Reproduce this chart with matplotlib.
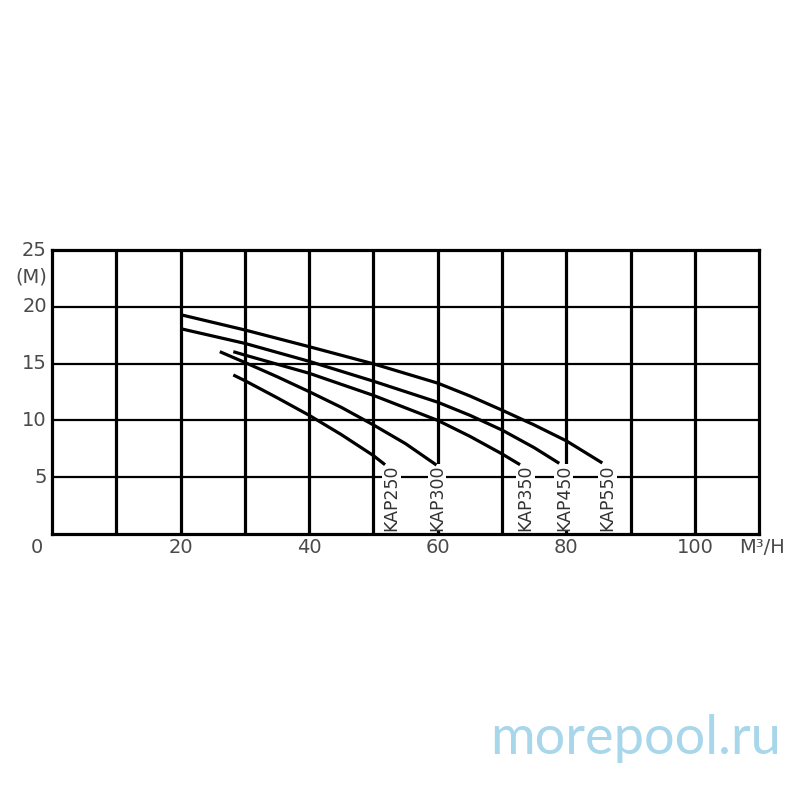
import numpy as np
import matplotlib.pyplot as plt

# pump curves: flow (m3/h) vs head (m)
models = ['KAP250', 'KAP300', 'KAP350', 'KAP450', 'KAP550']
flow = {
    'KAP250': [28.2, 30, 35, 40, 45, 50, 51.8],
    'KAP300': [26.1, 30, 35, 40, 45, 50, 55, 59.8],
    'KAP350': [28.2, 30, 40, 50, 60, 65, 70, 72.8],
    'KAP450': [20.2, 30, 40, 50, 60, 65, 70, 75, 78.9],
    'KAP550': [20.2, 30, 40, 50, 60, 65, 70, 75, 80, 85.6],
}
head = {
    'KAP250': [14.0, 13.5, 12.0, 10.45, 8.75, 6.9, 6.1],
    'KAP300': [16.05, 15.1, 13.85, 12.53, 11.15, 9.6, 7.95, 6.07],
    'KAP350': [16.05, 15.75, 14.15, 12.2, 10.0, 8.6, 7.05, 6.1],
    'KAP450': [18.05, 16.78, 15.2, 13.45, 11.6, 10.45, 9.15, 7.6, 6.22],
    'KAP550': [19.28, 17.96, 16.49, 14.98, 13.28, 12.15, 10.9, 9.6, 8.2, 6.25],
}
label_x = [52.8, 59.9, 73.6, 79.6, 86.4]

x_ticks = [20, 40, 60, 80, 100]
y_ticks = [5, 10, 15, 20, 25]

fig = plt.figure(figsize=(8, 8), dpi=100)
ax = fig.add_axes([0.065, 0.3325, 0.884, 0.355])
ax.set_xlim(0, 110)
ax.set_ylim(0, 25)

for xv in np.arange(10, 110, 10):
    ax.axvline(xv, color='black', lw=2.3, zorder=1)
for yv in np.arange(5, 25, 5):
    ax.axhline(yv, color='black', lw=1.6, zorder=1)

for m in models:
    ax.plot(flow[m], head[m], color='black', lw=2.3, zorder=3,
            solid_capstyle='butt', solid_joinstyle='round')

for m, lx in zip(models, label_x):
    ax.text(lx, 0.3, m, rotation=90, ha='center', va='bottom', fontsize=12.5,
            family=['Liberation Sans Narrow', 'DejaVu Sans'], color='#333333',
            bbox=dict(facecolor='white', edgecolor='none', pad=0.3), zorder=2)

for s in ax.spines.values():
    s.set_linewidth(2.3)

ax.set_xticks([])
ax.set_yticks([])

gray = '#4a4a4a'
for t in x_ticks:
    ax.text(t, -1.2, str(t), ha='center', va='center', fontsize=14, color=gray)
ax.text(-2.3, -1.2, '0', ha='center', va='center', fontsize=14, color=gray)
ax.text(110.5, -1.2, 'M³/H', ha='center', va='center', fontsize=14, color=gray)
for t in y_ticks:
    ax.text(-0.8, t, str(t), ha='right', va='center', fontsize=14, color=gray)
ax.text(-0.8, 22.6, '(M)', ha='right', va='center', fontsize=14, color=gray)

fig.text(0.976, 0.058, 'morepool.ru', ha='right', va='baseline', fontsize=39,
         family='Lato', color='#a8d6ea')

fig.savefig('out.png', dpi=100)
